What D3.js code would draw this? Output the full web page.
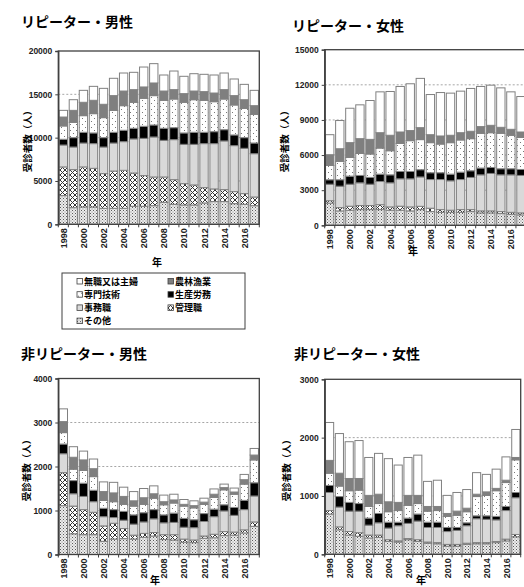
<!DOCTYPE html>
<html>
<head>
<meta charset="utf-8">
<script src="https://cdn.jsdelivr.net/npm/d3@7/dist/d3.min.js"></script>
<style>
  body { margin: 0; background: #fff; }
  text { font-family: "Noto Sans CJK JP", "Liberation Sans", sans-serif; }
</style>
</head>
<body>
<script>
// categories on the x axis and labels shown
var years = [1998, 1999, 2000, 2001, 2002, 2003, 2004, 2005, 2006, 2007,
             2008, 2009, 2010, 2011, 2012, 2013, 2014, 2015, 2016, 2017];
var yearLabels = [1998, 2000, 2002, 2004, 2006, 2008, 2010, 2012, 2014, 2016];

// stack order, bottom to top
var categories = ["その他", "管理職", "事務職", "生産労務", "専門技術", "農林漁業", "無職又は主婦"];
var legendOrder = ["無職又は主婦", "農林漁業", "専門技術", "生産労務", "事務職", "管理職", "その他"];

// values per category (same order as categories), one per year
var repMale = [
    [3310,1920,2000,2000,1850,1850,1850,2080,2080,2150,2540,2310,2230,2230,2460,2620,2620,2380,2310,2150],
    [3310,4390,4620,4460,4000,4300,4380,3840,3540,3310,2920,2840,2460,2310,1770,1460,1380,1390,1230,1000],
    [2530,2610,2760,2850,3070,3230,3310,3930,4300,4620,4230,4620,4540,4690,5080,5230,5620,5310,5230,5000],
    [660,1080,1240,1230,1080,1240,1310,1230,1390,1380,1390,1380,1310,1390,1310,1380,1300,1230,1230,1230],
    [1540,1770,1920,2230,2310,2530,2840,3000,3230,3390,3230,3310,3540,3760,3690,3460,3540,3460,3380,3310],
    [1030,1380,1540,1540,1540,1700,1690,1460,1310,1460,1070,1080,1000,1000,1000,1000,1080,1080,1000,1000],
    [770,1230,1380,1610,1840,2000,2080,2000,2300,2230,1850,2150,2000,2000,2000,2080,1920,1920,1770,1770]
];
var repFemale = [
    [1900,1230,1290,1340,1340,1340,1290,1290,1230,1340,1170,1110,1110,1110,1170,1060,1060,1000,940,890],
    [200,280,340,350,350,420,280,340,340,280,290,230,180,230,170,170,170,170,170,170],
    [1410,1830,1880,1940,1820,1980,2060,2340,2400,2510,2450,2570,2510,2570,2750,3080,3200,3140,3200,3200],
    [380,550,690,630,580,630,680,630,630,620,580,580,570,630,570,580,510,520,520,510],
    [1220,1570,1600,1880,2000,2230,2060,2400,2630,2570,2570,2450,2690,2750,2740,2970,2970,3030,2860,2740],
    [920,1080,1260,1260,1250,1310,1320,970,860,1020,680,690,630,620,630,570,630,510,510,460],
    [1710,2410,2940,2890,3320,3490,3740,3890,4000,4210,3430,3710,3600,3550,3660,3430,3430,3370,3200,3030]
];
var nonRepMale = [
    [1110,470,450,450,300,350,360,350,390,420,340,330,280,270,370,380,430,440,490,640],
    [750,630,570,510,350,360,230,90,90,80,110,120,70,60,50,80,90,70,70,100],
    [430,280,300,240,210,130,190,250,260,310,270,280,270,280,330,400,470,380,460,590],
    [220,300,300,260,190,180,200,210,210,210,180,210,200,180,180,170,140,180,210,300],
    [260,260,290,310,180,180,160,200,190,260,230,230,280,270,210,270,340,300,370,520],
    [250,270,240,180,200,200,180,120,150,100,70,70,40,50,50,70,50,50,100,110],
    [290,240,200,220,220,240,210,210,210,180,150,130,110,110,90,120,80,90,120,150]
];
var nonRepFemale = [
    [690,420,330,310,280,290,220,210,250,220,190,180,140,140,170,180,180,200,230,300],
    [60,50,60,60,50,40,30,20,20,30,20,20,30,30,20,20,20,20,30,40],
    [310,340,350,370,170,210,200,260,260,320,250,260,220,240,300,410,400,370,490,630],
    [120,180,150,130,120,160,100,60,90,120,90,90,70,50,50,50,60,60,70,90],
    [210,180,200,230,200,170,180,200,220,180,190,200,190,210,190,330,350,440,410,560],
    [220,220,210,200,190,160,170,140,170,140,80,70,50,70,60,40,60,40,40,40],
    [650,680,630,650,650,700,740,640,650,690,430,450,310,320,320,370,300,330,400,480]
];

var W = 524, H = 587;
var svg = d3.select("body").append("svg")
    .attr("width", W).attr("height", H);

// fill patterns
var defs = svg.append("defs");
var pOther = defs.append("pattern").attr("id", "pOther")
    .attr("patternUnits", "userSpaceOnUse").attr("width", 3).attr("height", 3);
pOther.append("rect").attr("width", 3).attr("height", 3).attr("fill", "#ececec");
pOther.append("rect").attr("x", 0).attr("y", 0).attr("width", 1).attr("height", 1).attr("fill", "#5a5a5a");
pOther.append("rect").attr("x", 1.5).attr("y", 1.5).attr("width", 1).attr("height", 1).attr("fill", "#8a8a8a");

var pMgr = defs.append("pattern").attr("id", "pMgr")
    .attr("patternUnits", "userSpaceOnUse").attr("width", 5).attr("height", 5);
pMgr.append("rect").attr("width", 5).attr("height", 5).attr("fill", "#fff");
pMgr.append("path").attr("d", "M0,0L5,5M5,0L0,5")
    .attr("stroke", "#333").attr("stroke-width", 1);

var pPro = defs.append("pattern").attr("id", "pPro")
    .attr("patternUnits", "userSpaceOnUse").attr("width", 6).attr("height", 6);
pPro.append("rect").attr("width", 6).attr("height", 6).attr("fill", "#fff");
pPro.append("rect").attr("x", 1).attr("y", 1).attr("width", 1).attr("height", 1).attr("fill", "#777");
pPro.append("rect").attr("x", 4).attr("y", 4).attr("width", 1).attr("height", 1).attr("fill", "#777");

var fills = {
    "その他": "url(#pOther)",
    "管理職": "url(#pMgr)",
    "事務職": "#d9d9d9",
    "生産労務": "#000",
    "専門技術": "url(#pPro)",
    "農林漁業": "#7f7f7f",
    "無職又は主婦": "#fff"
};

function drawPanel(p) {
    var rows = years.map(function(y, i) {
        var r = {year: y};
        categories.forEach(function(c, k) { r[c] = p.data[k][i]; });
        return r;
    });
    var series = d3.stack().keys(categories)(rows);

    var x = d3.scaleBand().domain(years).range([p.x0, p.x1]).paddingInner(0.17).paddingOuter(0.085);
    var y = d3.scaleLinear().domain([0, p.ymax]).range([p.y0, p.y1]);

    var g = svg.append("g");

    // title
    g.append("text")
        .attr("x", p.titleX).attr("y", p.titleY)
        .style("font-size", "14px").style("font-weight", "bold")
        .text(p.title);

    // dashed gridlines
    g.append("g").selectAll("line")
        .data(p.grid).enter().append("line")
            .attr("x1", p.x0).attr("x2", p.x1)
            .attr("y1", function(d) { return y(d); })
            .attr("y2", function(d) { return y(d); })
            .attr("stroke", "#a6a6a6").attr("stroke-width", 1)
            .attr("stroke-dasharray", "2,2");

    // bars
    g.append("g").selectAll("g")
        .data(series).enter().append("g")
            .attr("fill", function(d) { return fills[d.key]; })
        .selectAll("rect")
        .data(function(d) { return d; }).enter().append("rect")
            .attr("x", function(d) { return x(d.data.year); })
            .attr("width", x.bandwidth())
            .attr("y", function(d) { return y(d[1]); })
            .attr("height", function(d) { return y(d[0]) - y(d[1]); })
            .attr("stroke", "#808080").attr("stroke-width", 1);

    // plot frame
    g.append("rect")
        .attr("x", p.x0).attr("y", p.y1)
        .attr("width", p.x1 - p.x0).attr("height", p.y0 - p.y1)
        .attr("fill", "none").attr("stroke", "#404040").attr("stroke-width", 1.3);

    // y axis
    var yAxis = d3.axisLeft(y).tickValues(p.yticks).tickSize(3).tickPadding(3)
        .tickFormat(d3.format("d"));
    var ya = g.append("g").attr("transform", "translate(" + p.x0 + ",0)").call(yAxis);
    ya.select(".domain").attr("stroke", "#404040").attr("stroke-width", 1.3);
    ya.selectAll("text").style("font-family", "'Liberation Sans', Arial, sans-serif")
        .style("font-size", "8.5px").style("font-weight", "bold").attr("fill", "#222");
    ya.selectAll(".tick line").attr("stroke", "#404040");

    // x axis: ticks between categories, labels on even years
    var xa = g.append("g");
    xa.selectAll("line")
        .data(years.concat([null])).enter().append("line")
            .attr("x1", function(d, i) { return p.x0 + i * (p.x1 - p.x0) / years.length; })
            .attr("x2", function(d, i) { return p.x0 + i * (p.x1 - p.x0) / years.length; })
            .attr("y1", p.y0).attr("y2", p.y0 + 3)
            .attr("stroke", "#404040");
    xa.selectAll("text")
        .data(yearLabels).enter().append("text")
            .attr("transform", function(d) {
                return "translate(" + (x(d) + x.bandwidth() / 2 + 3.5) + "," + (p.y0 + 4) + ") rotate(-90)";
            })
            .style("text-anchor", "end")
            .style("font-family", "'Liberation Sans', Arial, sans-serif")
            .style("font-size", "9px").style("font-weight", "bold")
            .attr("fill", "#222")
            .text(function(d) { return d; });

    // axis titles
    g.append("text")
        .attr("transform", "translate(" + p.ylabX + "," + p.ylabY + ") rotate(-90)")
        .style("text-anchor", "middle")
        .style("font-size", "9.5px").style("font-weight", "bold")
        .text("受診者数（人）");
    g.append("text")
        .attr("x", p.nenX).attr("y", p.nenY)
        .style("text-anchor", "middle")
        .style("font-size", "10px").style("font-weight", "bold")
        .text("年");
}

drawPanel({title: "リピーター・男性", data: repMale, ymax: 20000,
    yticks: [0, 5000, 10000, 15000, 20000], grid: [5000, 10000, 15000],
    x0: 58.3, x1: 259.3, y0: 224.3, y1: 51,
    titleX: 21, titleY: 27, ylabX: 31, ylabY: 139, nenX: 157, nenY: 266});

drawPanel({title: "リピーター・女性", data: repFemale, ymax: 15000,
    yticks: [0, 3000, 6000, 9000, 12000, 15000], grid: [3000, 6000, 9000, 12000],
    x0: 324.7, x1: 526, y0: 225.3, y1: 49.7,
    titleX: 292, titleY: 31, ylabX: 288, ylabY: 139, nenX: 413, nenY: 255});

drawPanel({title: "非リピーター・男性", data: nonRepMale, ymax: 4000,
    yticks: [0, 1000, 2000, 3000, 4000], grid: [1000, 2000, 3000],
    x0: 58.3, x1: 259.3, y0: 554.5, y1: 378.5,
    titleX: 21, titleY: 359, ylabX: 30, ylabY: 468, nenX: 155, nenY: 584});

drawPanel({title: "非リピーター・女性", data: nonRepFemale, ymax: 3000,
    yticks: [0, 1000, 2000, 3000], grid: [1000, 2000],
    x0: 324.7, x1: 520.7, y0: 554.3, y1: 379.3,
    titleX: 294, titleY: 359, ylabX: 290, ylabY: 468, nenX: 421, nenY: 584});

// legend (under the first panel)
var lg = svg.append("g");
lg.append("rect")
    .attr("x", 62).attr("y", 273).attr("width", 183).attr("height", 56)
    .attr("fill", "#fff").attr("stroke", "#404040").attr("stroke-width", 1);
var item = lg.selectAll("g.item")
    .data(legendOrder).enter().append("g")
        .attr("transform", function(d, i) {
            var col = i % 2, row = Math.floor(i / 2);
            return "translate(" + (col === 0 ? 77 : 168) + "," + (281.5 + row * 13.2) + ")";
        });
item.append("rect")
    .attr("x", 0).attr("y", -3).attr("width", 5.5).attr("height", 5.5)
    .attr("fill", function(d) { return fills[d]; })
    .attr("stroke", "#404040").attr("stroke-width", 0.8);
item.append("text")
    .attr("x", 7).attr("y", 0).attr("dy", "0.35em")
    .style("font-size", "9px").style("font-weight", "bold")
    .text(function(d) { return d; });
</script>
</body>
</html>
